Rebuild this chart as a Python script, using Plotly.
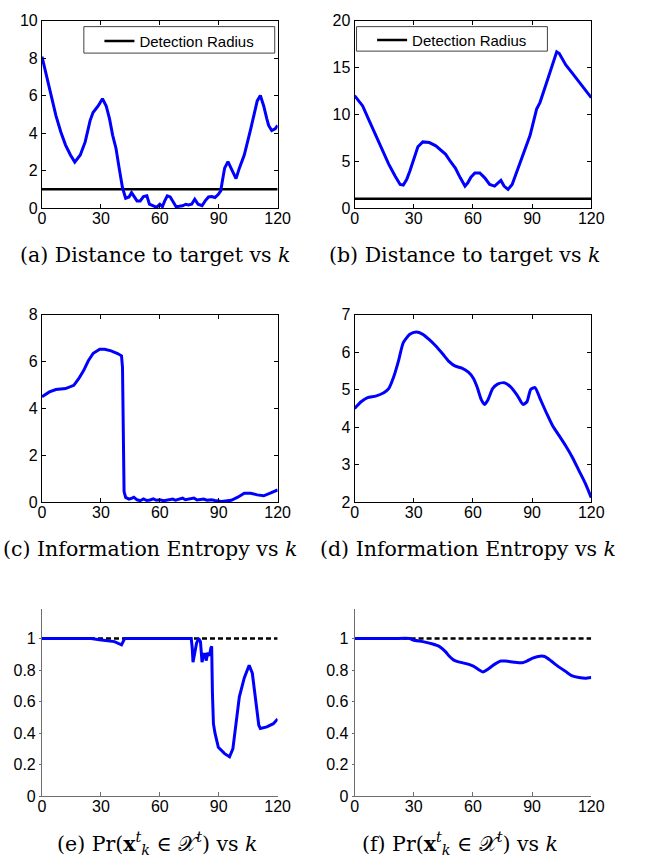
import plotly.graph_objects as go

# ---------------- data ----------------
k_a = [0, 3, 5.5, 7.1, 9.6, 12, 14.5, 16.7, 19.5, 22, 24.5, 26, 28.6, 30.8, 32.7, 34.4, 36, 37.7,
       39.3, 41, 42.6, 44.3, 45.6, 46.8, 48.4, 50, 51.7, 53.4, 54.7, 56.7, 58.3, 60, 61.3, 62.5,
       63.8, 65.3, 66.6, 68.3, 69.9, 71.6, 73.2, 74.5, 76.2, 77.8, 79.5, 81.5, 83.1, 84.8, 86.4,
       88.1, 89.8, 91, 91.7, 93, 94.7, 96.4, 98.8, 100.5, 103, 106.3, 108, 109.6, 111.2, 112.9,
       114.5, 115.4, 117, 118.7, 120]
dist_a = [8.08, 6.77, 5.63, 4.93, 4.06, 3.36, 2.83, 2.45, 2.83, 3.53, 4.67, 5.1, 5.45, 5.84, 5.45,
          4.76, 3.88, 3.18, 2.13, 1.08, 0.52, 0.59, 0.82, 0.61, 0.38, 0.38, 0.61, 0.65, 0.21, 0.12,
          0.03, 0.2, 0.07, 0.38, 0.65, 0.59, 0.38, 0.07, 0.09, 0.12, 0.2, 0.16, 0.2, 0.47, 0.2, 0.12,
          0.38, 0.59, 0.61, 0.56, 0.73, 0.91, 1.35, 2.13, 2.48, 2.13, 1.57, 2.13, 2.83, 4.23, 4.93,
          5.72, 6.01, 5.45, 4.76, 4.41, 4.14, 4.23, 4.41]

k_b = [0, 4.1, 7.4, 10.7, 14, 17.3, 20.6, 23.1, 24.7, 26.4, 28, 29.7, 32.1, 34.6, 37.9, 41.2, 44.5,
       46.2, 48.6, 51.1, 53.6, 56, 57.4, 59, 61, 63.5, 66, 68.5, 71, 73, 74.2, 75.8, 77.8, 79.9,
       82.4, 85.7, 89, 92.3, 94, 97.3, 100.5, 102.5, 103.8, 107.1, 110.4, 113.7, 117, 120]
dist_b = [12.0, 10.9, 9.34, 7.76, 6.19, 4.69, 3.39, 2.52, 2.45, 3.04, 3.92, 5.03, 6.54, 7.06, 6.99,
          6.64, 6.08, 5.73, 4.97, 4.27, 3.22, 2.34, 2.69, 3.29, 3.74, 3.74, 3.22, 2.52, 2.34, 2.69,
          2.94, 2.34, 1.99, 2.52, 3.92, 5.84, 7.76, 10.56, 11.26, 13.36, 15.45, 16.68, 16.5, 15.28,
          14.4, 13.53, 12.66, 11.78]

detect_k = [0, 120]
detect_r = [1, 1]

k_c = [0, 3.8, 7.1, 12, 16.2, 18.7, 21.2, 23.6, 26.1, 29.4, 31.9, 35.2, 38.5, 40.5, 41, 41.3, 41.8,
       42.6, 44.3, 45.9, 46.8, 48.4, 50, 51.7, 53.4, 55, 56.7, 58.3, 60, 62, 64, 66.6, 68, 70,
       71.6, 73, 75, 77.4, 79, 80.5, 82.3, 84, 86.4, 88, 91.4, 96.4, 99.7, 103, 106.3, 109.6,
       112.9, 116.2, 120]
ent_c = [4.5, 4.71, 4.81, 4.85, 4.99, 5.27, 5.62, 6.04, 6.36, 6.53, 6.53, 6.46, 6.35, 6.25, 5.76,
         2.96, 0.45, 0.2, 0.13, 0.17, 0.21, 0.1, 0.06, 0.14, 0.07, 0.09, 0.14, 0.08, 0.1, 0.06,
         0.09, 0.13, 0.08, 0.12, 0.17, 0.1, 0.13, 0.17, 0.09, 0.1, 0.13, 0.08, 0.1, 0.07, 0.03,
         0.08, 0.21, 0.38, 0.38, 0.31, 0.27, 0.38, 0.52]

k_d = [0, 3.3, 6.6, 10.7, 14.8, 17.3, 19.8, 22.3, 24.7, 28, 31.3, 34.6, 37.9, 41.2, 44.5, 47.8,
       51.1, 54.4, 57.7, 60.2, 62.1, 64.3, 65.9, 67.6, 70, 72.5, 75.8, 79.1, 82.4, 85.4, 87.4,
       89.3, 91.5, 94, 97.3, 100.5, 103.8, 107.1, 110.4, 113.7, 117, 120]
ent_d = [4.5, 4.68, 4.79, 4.83, 4.92, 5.03, 5.34, 5.78, 6.26, 6.48, 6.54, 6.48, 6.34, 6.17, 5.97,
         5.76, 5.63, 5.58, 5.47, 5.31, 5.08, 4.73, 4.61, 4.73, 5.03, 5.15, 5.19, 5.08, 4.86, 4.61,
         4.68, 5.01, 5.06, 4.77, 4.38, 4.03, 3.77, 3.5, 3.2, 2.85, 2.5, 2.12]

k_e = [0, 10, 20, 25, 30.2, 36.9, 40.5, 41.3, 42.1, 50, 60, 70, 76, 76.5, 76.9, 77.8, 78.7, 79.8,
       80.7, 81.5, 82.3, 83.1, 83.6, 84.5, 85.3, 86, 86.4, 86.8, 87.3, 88.1, 89.8, 93, 95.5, 97.2,
       98.8, 100.5, 103, 105.5, 107.1, 108.8, 110.4, 111.2, 114.5, 117.8, 120]
prob_e = [1, 1, 1, 1, 0.99, 0.98, 0.96, 0.98, 1, 1, 1, 1, 1, 0.94, 0.85, 0.91, 0.97, 1, 0.98, 0.85,
          0.9, 0.9, 0.86, 0.91, 0.89, 0.94, 0.95, 0.65, 0.46, 0.4, 0.31, 0.27, 0.25, 0.3, 0.46,
          0.63, 0.75, 0.83, 0.78, 0.59, 0.45, 0.43, 0.44, 0.46, 0.49]

k_f = [0, 10, 20, 28, 29.7, 34.6, 39.6, 42.9, 46.2, 47.8, 50.3, 52.7, 56, 60.2, 62.6, 65.1, 67.6,
       70.9, 74.2, 76.6, 80.8, 84.9, 87.4, 90.7, 94, 96.4, 99.7, 103, 107.1, 110.4, 113.7, 117, 120]
prob_f = [1, 1, 1, 1, 0.99, 0.98, 0.965, 0.95, 0.915, 0.89, 0.863, 0.852, 0.842, 0.825, 0.805,
          0.788, 0.805, 0.836, 0.857, 0.857, 0.85, 0.846, 0.857, 0.877, 0.888, 0.886, 0.857, 0.825,
          0.79, 0.763, 0.753, 0.748, 0.753]

ref_k = [0, 120]
ref_p = [1, 1]

x_ticks = [0, 30, 60, 90, 120]
captions = [
    "(a) Distance to target vs <i>k</i>",
    "(b) Distance to target vs <i>k</i>",
    "(c) Information Entropy vs <i>k</i>",
    "(d) Information Entropy vs <i>k</i>",
    "(e) Pr(<b>x</b><sup><i>t</i></sup><sub><i>k</i></sub> \u2208 \U0001D4B3<sup><i>t</i></sup>) vs <i>k</i>",
    "(f) Pr(<b>x</b><sup><i>t</i></sup><sub><i>k</i></sub> \u2208 \U0001D4B3<sup><i>t</i></sup>) vs <i>k</i>",
]

# ---------------- layout helpers ----------------
W, H = 650, 868
BLUE = "#0000ff"
TICKFONT = dict(family="Liberation Sans, Arial, sans-serif", size=16, color="black")


def xd(p0, p1):
    return [p0 / W, p1 / W]


def yd(top, bottom):
    return [1 - bottom / H, 1 - top / H]


cols = [(39, 281), (360, 603)]
rows = [(13, 204), (313, 504), (612.5, 804)]

fig = go.Figure()

# traces
fig.add_trace(go.Scatter(x=detect_k, y=detect_r, mode="lines", name="Detection Radius",
                         line=dict(color="black", width=2.5), xaxis="x", yaxis="y",
                         legend="legend", showlegend=True))
fig.add_trace(go.Scatter(x=k_a, y=dist_a, mode="lines", line=dict(color=BLUE, width=3),
                         xaxis="x", yaxis="y", showlegend=False))
fig.add_trace(go.Scatter(x=detect_k, y=detect_r, mode="lines", name="Detection Radius",
                         line=dict(color="black", width=2.5), xaxis="x2", yaxis="y2",
                         legend="legend2", showlegend=True))
fig.add_trace(go.Scatter(x=k_b, y=dist_b, mode="lines", line=dict(color=BLUE, width=3),
                         xaxis="x2", yaxis="y2", showlegend=False))
fig.add_trace(go.Scatter(x=k_c, y=ent_c, mode="lines", line=dict(color=BLUE, width=3),
                         xaxis="x3", yaxis="y3", showlegend=False))
fig.add_trace(go.Scatter(x=k_d, y=ent_d, mode="lines", line=dict(color=BLUE, width=3, shape="spline", smoothing=0.6),
                         xaxis="x4", yaxis="y4", showlegend=False))
fig.add_trace(go.Scatter(x=ref_k, y=ref_p, mode="lines", line=dict(color="black", width=2.5, dash="5px,3px"),
                         xaxis="x5", yaxis="y5", showlegend=False))
fig.add_trace(go.Scatter(x=k_e, y=prob_e, mode="lines", line=dict(color=BLUE, width=3),
                         xaxis="x5", yaxis="y5", showlegend=False))
fig.add_trace(go.Scatter(x=ref_k, y=ref_p, mode="lines", line=dict(color="black", width=2.5, dash="5px,3px"),
                         xaxis="x6", yaxis="y6", showlegend=False))
fig.add_trace(go.Scatter(x=k_f, y=prob_f, mode="lines", line=dict(color=BLUE, width=3, shape="spline", smoothing=0.6),
                         xaxis="x6", yaxis="y6", showlegend=False))

yinfo = [
    dict(range=[0, 10], tickvals=[0, 2, 4, 6, 8, 10]),
    dict(range=[0, 20], tickvals=[0, 5, 10, 15, 20]),
    dict(range=[0, 8], tickvals=[0, 2, 4, 6, 8]),
    dict(range=[2, 7], tickvals=[2, 3, 4, 5, 6, 7]),
    dict(range=[0, 1.19], tickvals=[0, 0.2, 0.4, 0.6, 0.8, 1], ticktext=["0", "0.2", "0.4", "0.6", "0.8", "1"]),
    dict(range=[0, 1.19], tickvals=[0, 0.2, 0.4, 0.6, 0.8, 1], ticktext=["0", "0.2", "0.4", "0.6", "0.8", "1"]),
]

layout = {}
for i in range(6):
    r, c = divmod(i, 2)
    suffix = "" if i == 0 else str(i + 1)
    boxed = r < 2
    lc = "black" if boxed else "#6e6e6e"
    xa = dict(domain=xd(*cols[c]), range=[0, 120], tickvals=x_ticks, showgrid=False, zeroline=False,
              showline=True, linecolor=lc, linewidth=1, mirror="ticks" if boxed else False,
              ticks="inside", ticklen=4, tickcolor=lc, tickfont=TICKFONT, ticklabelstandoff=-4,
              anchor="y" + suffix, fixedrange=True)
    ya = dict(domain=yd(*rows[r]), showgrid=False, zeroline=False, showline=True, linecolor=lc,
              linewidth=1, mirror="ticks" if boxed else False,
              ticks="inside" if boxed else "outside", ticklen=4 if boxed else 2, tickcolor=lc,
              tickfont=TICKFONT, anchor="x" + suffix, fixedrange=True, **yinfo[i])
    layout["xaxis" + suffix] = xa
    layout["yaxis" + suffix] = ya

# caption annotations
cap_pos = [(155, 252), (473, 252), (150, 552), (476, 552), (158, 852), (468, 852)]
annotations = []
for txt, (cx, cy) in zip(captions, cap_pos):
    annotations.append(dict(text=txt, x=cx / W, y=1 - cy / H, xref="paper", yref="paper",
                            xanchor="center", yanchor="middle", showarrow=False,
                            font=dict(family="DejaVu Serif, serif", size=20.5, color="black")))

# legend frames
shapes = [
    dict(type="rect", xref="paper", yref="paper", x0=82 / W, x1=278 / W, y0=1 - 46 / H, y1=1 - 19 / H,
         line=dict(color="#404040", width=1), fillcolor="white", layer="below"),
    dict(type="rect", xref="paper", yref="paper", x0=362 / W, x1=558 / W, y0=1 - 44 / H, y1=1 - 19 / H,
         line=dict(color="#404040", width=1), fillcolor="white", layer="below"),
]

LEGFONT = dict(family="Liberation Sans, Arial, sans-serif", size=15, color="black")
fig.update_layout(
    width=W, height=H, margin=dict(l=0, r=0, t=0, b=0),
    paper_bgcolor="white", plot_bgcolor="rgba(0,0,0,0)",
    annotations=annotations, shapes=shapes,
    legend=dict(x=98 / W, y=1 - 17 / H, xanchor="left", yanchor="top", bgcolor="rgba(0,0,0,0)",
                borderwidth=0, font=LEGFONT),
    legend2=dict(x=378 / W, y=1 - 16 / H, xanchor="left", yanchor="top", bgcolor="rgba(0,0,0,0)",
                 borderwidth=0, font=LEGFONT),
    **layout,
)

fig.write_html("out.html", config={"displayModeBar": False},
               post_script="document.body.style.margin='0';document.body.style.overflow='hidden';")
